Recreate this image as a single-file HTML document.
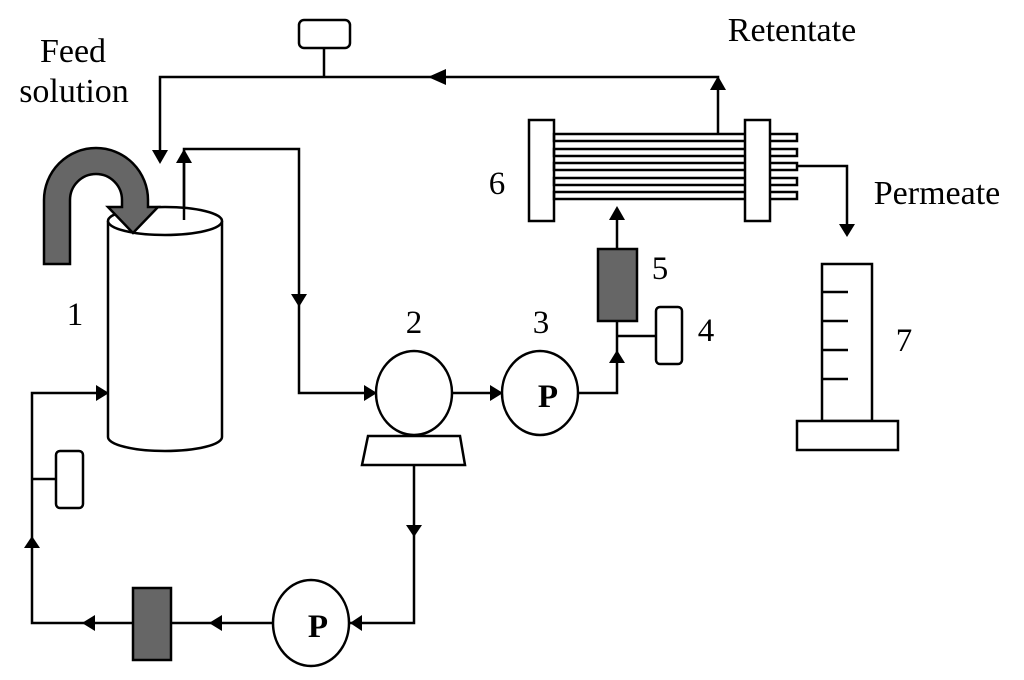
<!DOCTYPE html>
<html><head><meta charset="utf-8"><style>
html,body{margin:0;padding:0;background:#fff;}
svg{display:block;}
text{font-family:"Liberation Serif",serif;fill:#000;}
</style></head><body>
<svg width="1024" height="680" viewBox="0 0 1024 680" xmlns="http://www.w3.org/2000/svg">
<g fill="none" stroke="#000" stroke-width="2.5">
<polyline points="718,134 718,77 160,77 160,150"/>
<rect x="299" y="20" width="51" height="28" rx="5"/>
<line x1="324" y1="48" x2="324" y2="77"/>
<polyline points="184,220 184,160 184,149 299,149 299,393 370,393"/>
<path d="M108,221 L108,437 A57,14 0 0 0 222,437 L222,221"/>
<ellipse cx="165" cy="221" rx="57" ry="14" fill="#fff"/>
<line x1="184" y1="220" x2="184" y2="160"/>
<polyline points="100,393 32,393 32,623 272,623"/>
<rect x="56" y="451" width="27" height="57" rx="4"/>
<line x1="32" y1="479" x2="56" y2="479"/>
<rect x="133" y="588" width="38" height="72" fill="#666"/>
<ellipse cx="311" cy="623" rx="38" ry="43" fill="#fff"/>
<polyline points="349,623 414,623 414,465"/>
<ellipse cx="414" cy="393" rx="38" ry="42" fill="#fff"/>
<polygon points="368,436 460,436 465,465 362,465" fill="#fff"/>
<line x1="452" y1="393" x2="496" y2="393"/>
<ellipse cx="540" cy="393" rx="38" ry="42" fill="#fff"/>
<polyline points="578,393 617,393 617,321"/>
<rect x="598" y="249" width="39" height="72" fill="#666"/>
<rect x="656" y="307" width="26" height="57" rx="4"/>
<line x1="617" y1="336" x2="656" y2="336"/>
<line x1="617" y1="249" x2="617" y2="212"/>
<rect x="529" y="120" width="25" height="101" fill="#fff"/>
<g stroke-width="2.5">
<rect x="554" y="134" width="243" height="7"/>
<rect x="554" y="149" width="243" height="7"/>
<rect x="554" y="163" width="243" height="7"/>
<rect x="554" y="178" width="243" height="7"/>
<rect x="554" y="192" width="243" height="7"/>
</g>
<rect x="745" y="120" width="25" height="101" fill="#fff"/>
<polyline points="797,166 847,166 847,228"/>
<rect x="822" y="264" width="50" height="157"/>
<line x1="822" y1="292" x2="848" y2="292"/>
<line x1="822" y1="321" x2="848" y2="321"/>
<line x1="822" y1="350" x2="848" y2="350"/>
<line x1="822" y1="379" x2="848" y2="379"/>
<rect x="797" y="421" width="101" height="29" fill="#fff"/>
</g>
<path d="M44,264 L44,200 A52,52 0 0 1 148,200 L148,207 L158,207 L133,233 L108,207 L122,207 L122,200 A26,26 0 0 0 70,200 L70,264 Z" fill="#666" stroke="#000" stroke-width="2.5"/>
<g fill="#000">
<polygon points="428,77 446,69 446,85"/>
<polygon points="152,150 168,150 160,164"/>
<polygon points="176,163 192,163 184,149"/>
<polygon points="291,294 307,294 299,307"/>
<polygon points="364,385 364,401 377,393"/>
<polygon points="96,385 96,401 109,393"/>
<polygon points="490,385 490,401 503,393"/>
<polygon points="609,363 625,363 617,350"/>
<polygon points="609,220 625,220 617,206"/>
<polygon points="710,90 726,90 718,76"/>
<polygon points="839,224 855,224 847,237"/>
<polygon points="24,548 40,548 32,536"/>
<polygon points="406,525 422,525 414,537"/>
<polygon points="362,615 362,631 350,623"/>
<polygon points="222,615 222,631 209,623"/>
<polygon points="95,615 95,631 82,623"/>
</g>
<text x="73" y="62" font-size="34" text-anchor="middle">Feed</text>
<text x="74" y="102" font-size="34" text-anchor="middle">solution</text>
<text x="792" y="41" font-size="34" text-anchor="middle">Retentate</text>
<text x="937" y="204" font-size="34" text-anchor="middle">Permeate</text>
<text x="75" y="325" font-size="33" text-anchor="middle">1</text>
<text x="414" y="333" font-size="33" text-anchor="middle">2</text>
<text x="541" y="333" font-size="33" text-anchor="middle">3</text>
<text x="706" y="341" font-size="33" text-anchor="middle">4</text>
<text x="660" y="279" font-size="33" text-anchor="middle">5</text>
<text x="497" y="194" font-size="33" text-anchor="middle">6</text>
<text x="904" y="351" font-size="33" text-anchor="middle">7</text>
<text x="548" y="407" font-size="33" font-weight="bold" text-anchor="middle">P</text>
<text x="318" y="637" font-size="33" font-weight="bold" text-anchor="middle">P</text>
</svg>
</body></html>
